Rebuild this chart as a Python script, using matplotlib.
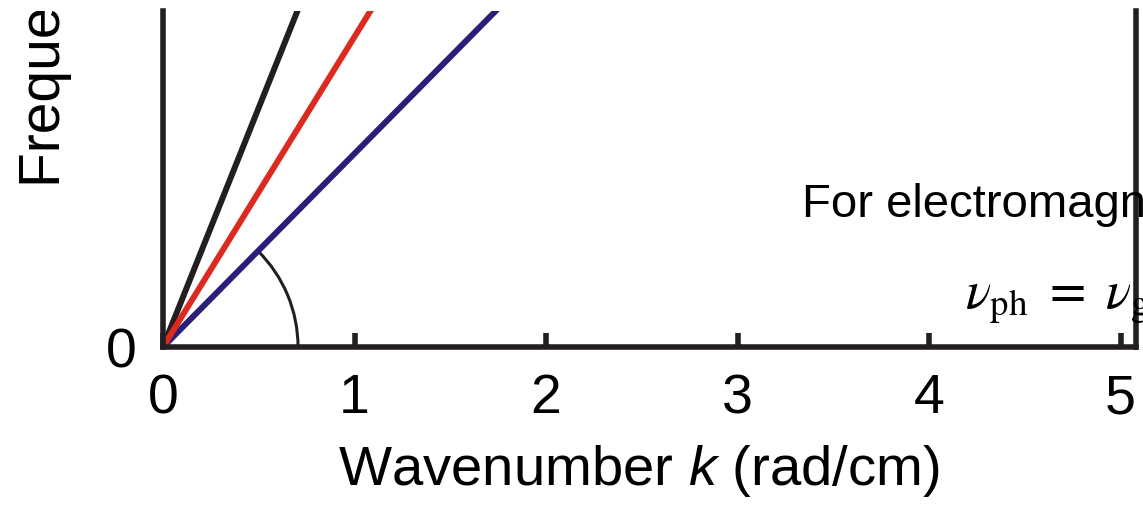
import numpy as np
import matplotlib
matplotlib.use("Agg")
import matplotlib.pyplot as plt
from matplotlib.patches import Arc
from matplotlib.transforms import Bbox

plt.rcParams['font.family'] = ['Liberation Sans', 'DejaVu Sans']
plt.rcParams['mathtext.fontset'] = 'custom'
plt.rcParams['mathtext.rm'] = 'Liberation Sans'
plt.rcParams['mathtext.it'] = 'Liberation Sans:italic'

# data
k = [0.0, 2.0]
omega_black = [0.0, 5.0]
omega_red = [0.0, 3.24]
omega_blue = [0.0, 2.02]
x_ticks = [0, 1, 2, 3, 4, 5]
x_tick_labels = ['0', '1', '2', '3', '4', '5']
y_ticks = [0]
y_tick_labels = ['0']

INK = '#231f20'
RED = '#dc2a1f'
BLUE = '#2a1f78'

W, H = 1143, 509
fig = plt.figure(figsize=(W / 100, H / 100), dpi=100)
ax = fig.add_axes([163 / W, (H - 347) / H, (1136 - 163) / W, (347 - 11) / H])

ax.set_xlim(0, (1136 - 163) / 191.5)
ax.set_ylim(0, (347 - 11) / 191.5)

lw = 4.3
ax.plot(k, omega_black, color=INK, lw=lw, solid_capstyle='butt', zorder=3)
ax.plot(k, omega_blue, color=BLUE, lw=lw, solid_capstyle='butt', zorder=4)
ax.plot(k, omega_red, color=RED, lw=lw, solid_capstyle='butt', zorder=5)

ang = np.degrees(np.arctan2(omega_blue[1] - omega_blue[0], k[1] - k[0]))
ax.add_patch(Arc((0, 0), 1.41, 1.41, theta1=0, theta2=ang, color=INK, lw=2.2, zorder=2))

for s in ['left', 'bottom', 'right']:
    ax.spines[s].set_linewidth(4.0)
    ax.spines[s].set_color(INK)
    ax.spines[s].set_zorder(6)
ax.spines['top'].set_visible(False)

ax.set_xticks(x_ticks)
ax.set_xticklabels(x_tick_labels)
ax.set_yticks(y_ticks)
ax.set_yticklabels(y_tick_labels)
ax.tick_params(axis='x', direction='in', length=10, width=4.0, color=INK,
               labelsize=40, pad=19)
ax.tick_params(axis='y', direction='in', length=0, labelsize=40, pad=19)

ax.set_xlabel('Wavenumber $k$ (rad/cm)', fontsize=40.5, labelpad=12)
ax.xaxis.set_label_coords((639 - 163) / (1136 - 163), -0.285)
ax.xaxis.label.set_va('top')

clip = Bbox.from_extents(0, 0, W, H - 11)
yl = fig.text(45 / W, (H - 187) / H, 'Frequency ω (rad/s)', rotation=90,
              ha='center', va='bottom', fontsize=41)
yl.set_clip_box(clip)
yl.set_clip_on(True)

fig.text(802 / W, (H - 217) / H, 'For electromagnetic waves', fontsize=34,
         ha='left', va='baseline')
fig.text(965 / W, (H - 308) / H, r'$\nu_{\mathrm{ph}}\ =\ \nu_{\mathrm{g}}$',
         fontsize=38, ha='left', va='baseline', math_fontfamily='stix')

fig.savefig('out.png', dpi=100)
